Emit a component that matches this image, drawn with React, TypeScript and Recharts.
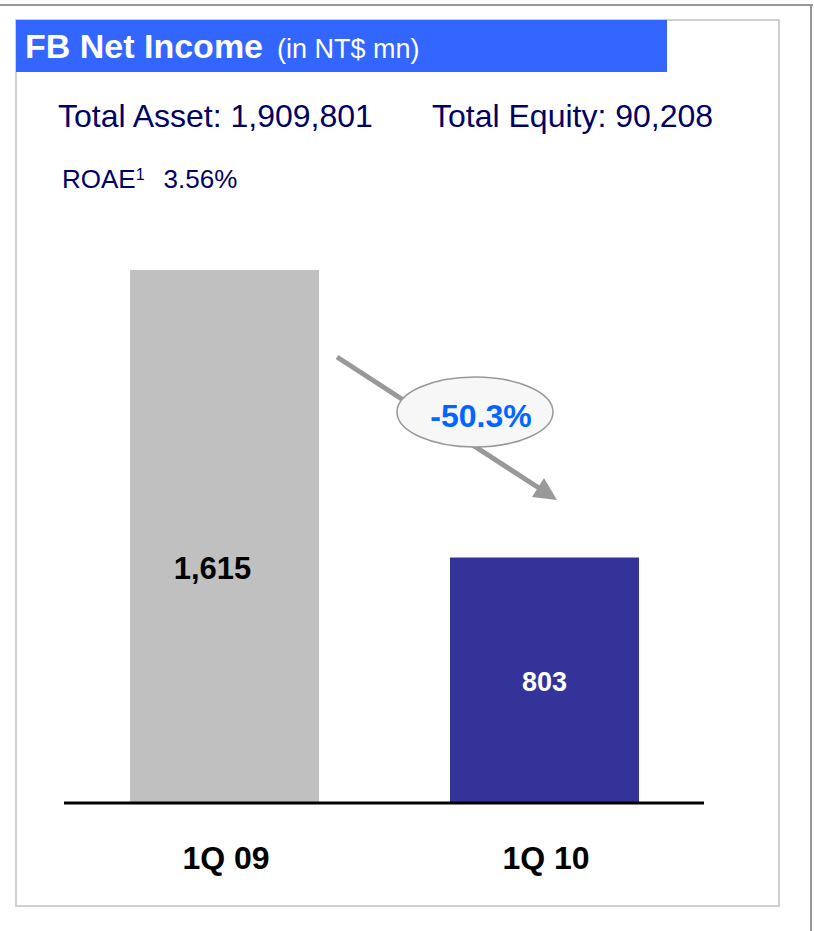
import { BarChart, Bar, XAxis, YAxis, Cell, LabelList } from 'recharts';

const categories = ['1Q 09', '1Q 10'];
const netIncome = [1615, 803];
const changeLabel = '-50.3%';
const totalAsset = '1,909,801';
const totalEquity = '90,208';
const roae = '3.56%';

const barColors = ['#C0C0C0', '#333399'];
const labelColors = ['#000000', '#FFFFFF'];

const data = categories.map((quarter, i) => ({ quarter, value: netIncome[i] }));

const FONT = '"Liberation Sans", Arial, sans-serif';
const NAVY = '#000066';

const BarValueLabel = (props: any) => {
  const { x, y, width, height, value, index } = props;
  // the first label sits a bit left and lower in the reference
  const cx = x + width / 2 + (index === 0 ? -12 : 0);
  const cy = y + height * (index === 0 ? 0.56 : 0.5);
  return (
    <text
      x={cx}
      y={cy}
      dy={11}
      textAnchor="middle"
      fill={labelColors[index]}
      fontFamily={FONT}
      fontWeight={700}
      fontSize={index === 0 ? 31 : 27}
    >
      {Number(value).toLocaleString('en-US')}
    </text>
  );
};

const QuarterTick = ({ x, y, payload }: any) => (
  <text x={x + 2} y={y} dy={58} textAnchor="middle" fill="#000" fontFamily={FONT} fontWeight={700} fontSize={32}>
    {payload.value}
  </text>
);

export default function App() {
  return (
    <div style={{ position: 'absolute', left: 0, top: 0, width: 814, height: 931, background: '#fff', fontFamily: FONT }}>
      {/* outer frame: top and right edges */}
      <div style={{ position: 'absolute', left: 0, top: 4, width: 813, height: 2, background: '#999' }} />
      <div style={{ position: 'absolute', left: 810, top: 4, width: 2, height: 927, background: '#999' }} />

      {/* inner panel */}
      <div style={{ position: 'absolute', left: 15, top: 19, width: 761, height: 884, border: '2px solid #d0d0d0' }} />

      {/* title bar */}
      <div style={{ position: 'absolute', left: 16, top: 20, width: 651, height: 52, background: '#3366FF' }} />
      <div style={{ position: 'absolute', left: 25, top: 27, color: '#fff', whiteSpace: 'nowrap', lineHeight: '38px' }}>
        <span style={{ fontSize: 34, fontWeight: 700 }}>FB Net Income</span>
        <span style={{ fontSize: 27, marginLeft: 14 }}>(in NT$ mn)</span>
      </div>

      <div style={{ position: 'absolute', left: 58, top: 96, color: NAVY, fontSize: 32, whiteSpace: 'nowrap', lineHeight: '40px' }}>
        Total Asset: {totalAsset}
      </div>
      <div style={{ position: 'absolute', left: 432, top: 96, color: NAVY, fontSize: 32, whiteSpace: 'nowrap', lineHeight: '40px' }}>
        Total Equity: {totalEquity}
      </div>
      <div style={{ position: 'absolute', left: 62, top: 163, color: NAVY, fontSize: 26, whiteSpace: 'nowrap', lineHeight: '32px' }}>
        ROAE<sup style={{ fontSize: 16, verticalAlign: 'top', position: 'relative', top: -4 }}>1</sup>
        <span style={{ marginLeft: 19 }}>{roae}</span>
      </div>

      <div style={{ position: 'absolute', left: 0, top: 0 }}>
        <BarChart
          width={814}
          height={931}
          data={data}
          margin={{ top: 270, right: 110, left: 64, bottom: 28 }}
          barSize={189}
        >
          <YAxis hide domain={[110, 1615]} allowDataOverflow />
          <XAxis
            dataKey="quarter"
            height={100}
            tickLine={false}
            axisLine={{ stroke: '#000', strokeWidth: 3 }}
            tick={<QuarterTick />}
            interval={0}
          />
          <Bar dataKey="value" isAnimationActive={false}>
            {data.map((d, i) => (
              <Cell key={d.quarter} fill={barColors[i]} />
            ))}
            <LabelList dataKey="value" content={<BarValueLabel />} />
          </Bar>
        </BarChart>
      </div>

      {/* change annotation */}
      <svg width={814} height={931} style={{ position: 'absolute', left: 0, top: 0, pointerEvents: 'none' }}>
        <line x1={337} y1={357} x2={539} y2={488} stroke="#999" strokeWidth={5} />
        <polygon points="557,500 532,497 544,478" fill="#999" />
        <ellipse cx={475} cy={412} rx={78} ry={35} fill="#f7f7f7" stroke="#999" strokeWidth={1.5} />
        <text x={481} y={427} textAnchor="middle" fill="#0066FF" fontFamily={FONT} fontWeight={700} fontSize={32}>
          {changeLabel}
        </text>
      </svg>
    </div>
  );
}
